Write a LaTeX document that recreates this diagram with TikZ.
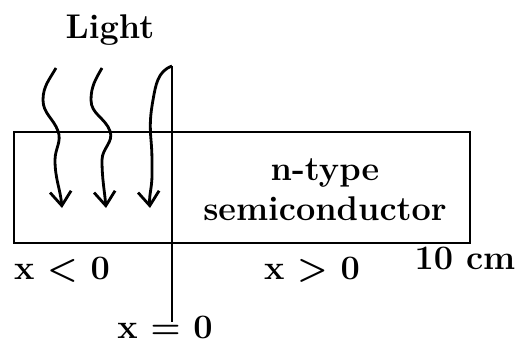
\documentclass[tikz,border=0pt]{standalone}
\usepackage{fontspec}
\usepackage{tikz}
\usetikzlibrary{arrows.meta, positioning}
\tikzset{
  lbl/.style={font=\fontsize{19.5}{23}\selectfont\bfseries, inner sep=1pt},
  slab/.style={draw, line width=1.6pt, minimum width=9.12cm, minimum height=2.22cm, inner sep=0pt},
  ray/.style={-{Straight Barb[length=8pt, width=12pt, line width=1.6pt]}, line width=1.6pt},
  planeline/.style={line width=1.6pt},
}
\begin{document}
\begin{tikzpicture}[x=0.02cm, y=-0.02cm]
  \useasboundingbox (0,0) rectangle (517,358);

  % --- semiconductor slab ----------------------------------------------
  \node[slab] (slab) at (242,187.5) {};
  \node[lbl, align=center] (ntype) at (325,190) {n-type\\semiconductor};

  % --- x = 0 plane ---------------------------------------------------------
  \coordinate (top) at (172,66);
  \coordinate (bot) at (172,322);
  \draw[planeline] (top) -- (bot);

  % --- light ----------------------------------------------------------------
  \node[lbl] (light) at (110,30) {Light};
  \coordinate (r1s) at (56,68);
  \coordinate (r1e) at (62,208);
  \coordinate (r2s) at (102,68);
  \coordinate (r2e) at (106,208);
  \coordinate (r3e) at (150,208);

  \draw[ray] (r1s) to[out=240,in=90] (43,100) to[out=-90,in=110] (58,131)
       to[out=-70,in=90] (55,160) to[out=-90,in=95] (r1e);
  \draw[ray] (r2s) to[out=240,in=90] (91,100) to[out=-90,in=110] (110,131)
       to[out=-70,in=90] (102,160) to[out=-90,in=95] (r2e);
  \draw[ray] (top) to[out=200,in=80] (153,100) to[out=-100,in=95] (151,140)
       to[out=-85,in=90] (152,175) to[out=-90,in=95] (r3e);

  % --- regions --------------------------------------------------------------
  \node[lbl] (neg)  at (62,270)  {x < 0};
  \node[lbl] (pos)  at (312,270) {x > 0};
  \node[lbl] (zero) at (165,327) {x = 0};
  \node[lbl] (len)  at (465,258) {10 cm};
\end{tikzpicture}
\end{document}
